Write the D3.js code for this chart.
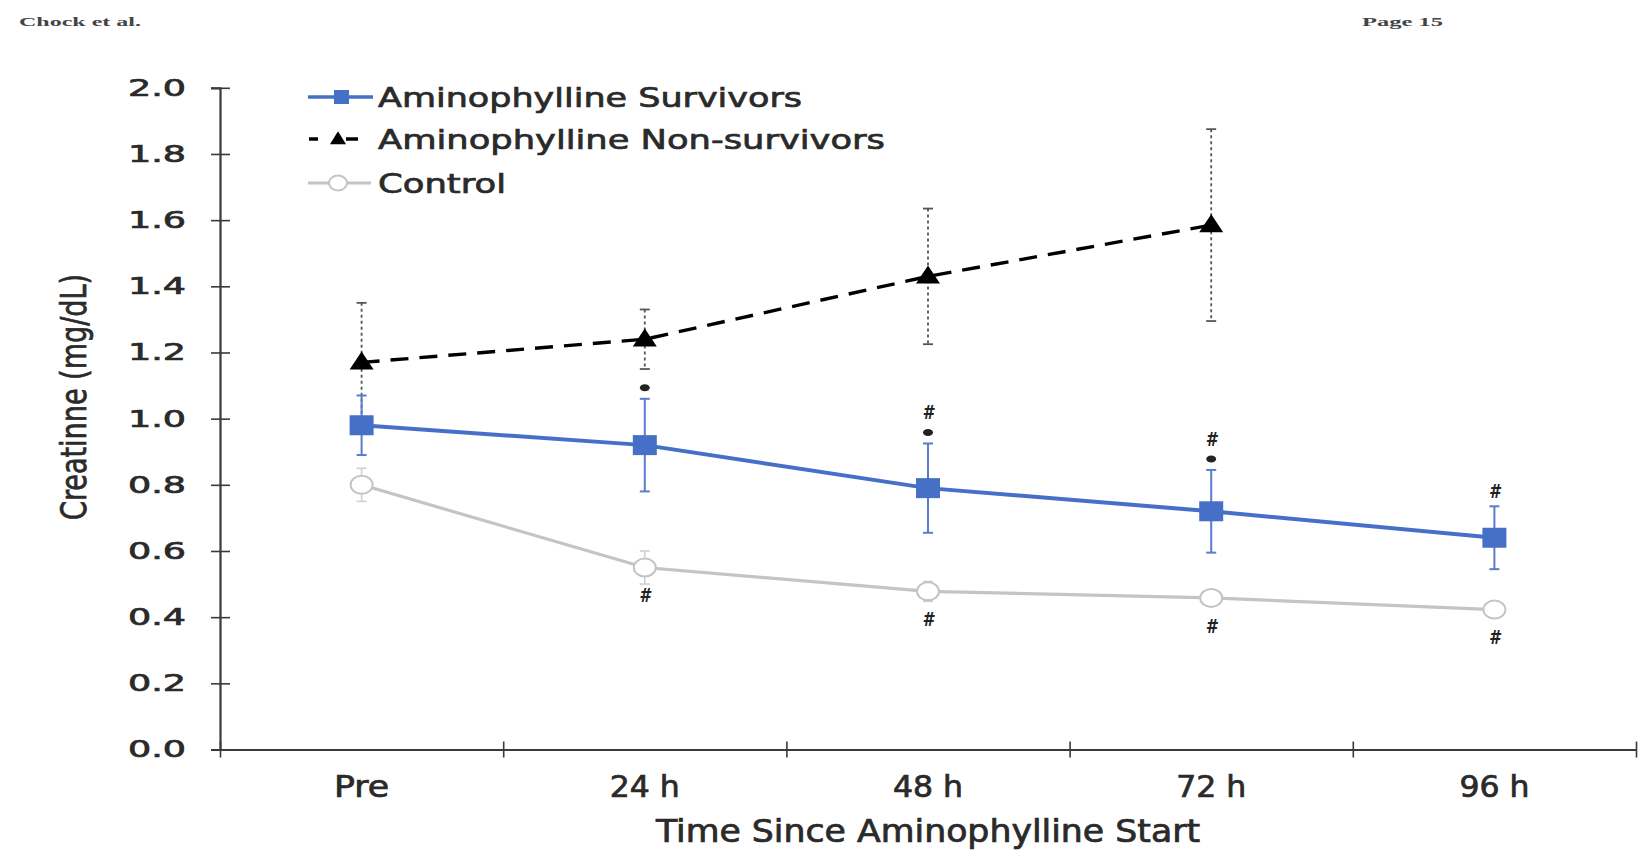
<!DOCTYPE html>
<html>
<head>
<meta charset="utf-8">
<script src="https://cdn.jsdelivr.net/npm/d3@7"></script>
<style>
  body { margin: 0; background: #fff; }
  svg { display: block; }
  .lbl { stroke: #2a2a2a; stroke-width: 0.7px; paint-order: stroke; }
</style>
</head>
<body>
<svg id="chart" width="1639" height="851"></svg>
<script>
// Serum creatinine over time since aminophylline start
const categories = ["Pre", "24 h", "48 h", "72 h", "96 h"];
const survivors = [0.98, 0.92, 0.79, 0.72, 0.64];
const survivorsErr = [0.09, 0.14, 0.135, 0.125, 0.095];
const nonSurvivors = [1.17, 1.24, 1.43, 1.585, null];
const nonSurvivorsErr = [0.18, 0.09, 0.205, 0.29, null];
const control = [0.80, 0.55, 0.478, 0.458, 0.423];
const controlErr = [0.05, 0.05, 0.03, 0.02, 0.015];
const survivorsMarks = ["", "*", "#*", "#*", "#"];
const controlMarks = ["", "#", "#", "#", "#"];
const yTicks = [0, 0.2, 0.4, 0.6, 0.8, 1.0, 1.2, 1.4, 1.6, 1.8, 2.0];
const seriesNames = ["Aminophylline Survivors", "Aminophylline Non-survivors", "Control"];

const BLUE = "#4670c8", BLACK = "#000", GREY = "#c4c4c4", AXIS = "#3a3a3a", TEXT = "#2a2a2a";
const SANS = "'DejaVu Sans', Verdana, sans-serif";
const NARROW = "'Liberation Sans Narrow', 'DejaVu Sans Condensed', 'Open Sans', sans-serif";

const svg = d3.select("#chart");
const x = d3.scaleBand().domain(categories).range([220, 1636]);
const y = d3.scaleLinear().domain([0, 2]).range([749.5, 87.8]);
const cx = c => x(c) + x.bandwidth() / 2;

// page header
svg.append("text").attr("x", 19).attr("y", 26).attr("textLength", 122)
  .attr("lengthAdjust", "spacingAndGlyphs")
  .style("font", "bold 13px 'Liberation Serif', serif").style("fill", "#444").text("Chock et al.");
svg.append("text").attr("x", 1362).attr("y", 26).attr("textLength", 81)
  .attr("lengthAdjust", "spacingAndGlyphs")
  .style("font", "bold 13px 'Liberation Serif', serif").style("fill", "#444").text("Page 15");

// y axis
const yAxis = svg.append("g").attr("transform", "translate(220,0)")
  .call(d3.axisLeft(y).tickValues(yTicks).tickFormat(d3.format(".1f")).tickSize(9).tickPadding(25));
yAxis.select(".domain").attr("stroke", AXIS).attr("stroke-width", 2.2);
yAxis.selectAll(".tick line").attr("x1", -9).attr("x2", 10).attr("stroke", AXIS).attr("stroke-width", 1.6);
yAxis.selectAll(".tick text").attr("class", "lbl").style("font-family", SANS).style("font-size", "23px")
  .style("fill", TEXT).attr("textLength", 58).attr("lengthAdjust", "spacingAndGlyphs");

// x axis: ticks on band boundaries
const xb = d3.scaleLinear().domain([0, categories.length]).range(x.range());
const xAxis = svg.append("g").attr("transform", `translate(0,${y(0)})`)
  .call(d3.axisBottom(xb).ticks(categories.length).tickFormat("").tickSize(8).tickSizeOuter(0));
xAxis.select(".domain").attr("stroke", AXIS).attr("stroke-width", 2.2);
xAxis.selectAll(".tick line").attr("y1", -8).attr("y2", 8).attr("stroke", AXIS).attr("stroke-width", 1.6);

svg.append("g").selectAll("text").data(categories).join("text").attr("class", "lbl")
  .attr("x", d => cx(d)).attr("y", 797).attr("text-anchor", "middle")
  .attr("textLength", d => d === "Pre" ? 55 : 70).attr("lengthAdjust", "spacingAndGlyphs")
  .style("font-family", NARROW).style("font-size", "31px").style("fill", TEXT).text(d => d);

svg.append("text").attr("class", "lbl").attr("x", 928).attr("y", 842).attr("text-anchor", "middle")
  .attr("textLength", 544).attr("lengthAdjust", "spacingAndGlyphs")
  .style("font-family", NARROW).style("font-size", "32px").style("fill", TEXT)
  .text("Time Since Aminophylline Start");

svg.append("text").attr("class", "lbl").attr("transform", "translate(86,397) rotate(-90)").attr("text-anchor", "middle")
  .attr("textLength", 246).attr("lengthAdjust", "spacingAndGlyphs")
  .style("font-family", NARROW).style("font-size", "36px").style("fill", TEXT)
  .text("Creatinne (mg/dL)");

// series records built from the arrays
const mk = (vals, errs) => categories.map((c, i) => ({ c, v: vals[i], e: errs[i] })).filter(d => d.v != null);
const sSurv = mk(survivors, survivorsErr);
const sNon = mk(nonSurvivors, nonSurvivorsErr);
const sCtrl = mk(control, controlErr);

function errorBars(data, color, width, dash) {
  const g = svg.append("g").attr("stroke", color).attr("stroke-width", width).attr("fill", "none");
  g.selectAll("line.v").data(data).join("line")
    .attr("x1", d => cx(d.c)).attr("x2", d => cx(d.c))
    .attr("y1", d => y(d.v + d.e)).attr("y2", d => y(d.v - d.e))
    .attr("stroke-dasharray", dash);
  [1, -1].forEach(s => {
    g.selectAll(null).data(data).join("line")
      .attr("x1", d => cx(d.c) - 5).attr("x2", d => cx(d.c) + 5)
      .attr("y1", d => y(d.v + s * d.e)).attr("y2", d => y(d.v + s * d.e));
  });
}
errorBars(sCtrl, "#d0d0d0", 1.6, null);
errorBars(sNon, "#555", 1.8, "3,3");
errorBars(sSurv, "#5a7ccc", 2, null);

const line = d3.line().x(d => cx(d.c)).y(d => y(d.v));
svg.append("path").datum(sCtrl).attr("d", line).attr("fill", "none").attr("stroke", GREY).attr("stroke-width", 3.2);
svg.append("path").datum(sSurv).attr("d", line).attr("fill", "none").attr("stroke", BLUE).attr("stroke-width", 4);
svg.append("path").datum(sNon).attr("d", line).attr("fill", "none").attr("stroke", BLACK)
  .attr("stroke-width", 3.4).attr("stroke-dasharray", "18,11");

// markers
svg.append("g").selectAll("ellipse").data(sCtrl).join("ellipse")
  .attr("cx", d => cx(d.c)).attr("cy", d => y(d.v)).attr("rx", 11).attr("ry", 9)
  .attr("fill", "#fff").attr("stroke", GREY).attr("stroke-width", 2);
svg.append("g").selectAll("rect").data(sSurv).join("rect")
  .attr("x", d => cx(d.c) - 12).attr("y", d => y(d.v) - 10).attr("width", 24).attr("height", 20)
  .attr("fill", BLUE);
const tri = (px, py, w, h) => `M${px},${py - h * 0.6}L${px + w / 2},${py + h * 0.4}L${px - w / 2},${py + h * 0.4}Z`;
svg.append("g").selectAll("path").data(sNon).join("path")
  .attr("d", d => tri(cx(d.c), y(d.v), 24, 18)).attr("fill", BLACK);

// significance marks
const markFont = "italic bold 19px 'DejaVu Sans', sans-serif";
svg.append("g").selectAll("g").data(sSurv.map((d, i) => ({ ...d, m: survivorsMarks[i] }))).join("g")
  .each(function (d) {
    const g = d3.select(this);
    const top = y(d.v + d.e);
    if (d.m.includes("*")) {
      g.append("ellipse").attr("cx", cx(d.c)).attr("cy", top - 11).attr("rx", 5).attr("ry", 3.5).attr("fill", "#222");
    }
    if (d.m.includes("#")) {
      g.append("text").attr("x", cx(d.c)).attr("y", top - (d.m.includes("*") ? 31 : 15))
        .attr("dy", "0.36em").attr("text-anchor", "middle").attr("textLength", 11)
        .attr("lengthAdjust", "spacingAndGlyphs").style("font", markFont)
        .style("fill", "#222").text("#");
    }
  });
svg.append("g").selectAll("text").data(sCtrl.map((d, i) => ({ ...d, m: controlMarks[i] })).filter(d => d.m))
  .join("text").attr("x", d => cx(d.c)).attr("y", d => y(d.v) + 28).attr("dy", "0.36em")
  .attr("text-anchor", "middle").attr("textLength", 11).attr("lengthAdjust", "spacingAndGlyphs")
  .style("font", markFont).style("fill", "#222")
  .text(d => d.m);

// legend
const legendY = [97, 139, 183];
const legendW = [424, 507, 128];
const lg = svg.append("g");
lg.append("line").attr("x1", 308).attr("x2", 373).attr("y1", legendY[0]).attr("y2", legendY[0])
  .attr("stroke", BLUE).attr("stroke-width", 3.5);
lg.append("rect").attr("x", 334).attr("y", legendY[0] - 7).attr("width", 15).attr("height", 14).attr("fill", BLUE);
lg.append("line").attr("x1", 309).attr("x2", 318).attr("y1", legendY[1]).attr("y2", legendY[1])
  .attr("stroke", BLACK).attr("stroke-width", 3.5);
lg.append("line").attr("x1", 346).attr("x2", 358).attr("y1", legendY[1]).attr("y2", legendY[1])
  .attr("stroke", BLACK).attr("stroke-width", 3.5);
lg.append("path").attr("d", tri(338, legendY[1], 16, 13)).attr("fill", BLACK);
lg.append("line").attr("x1", 308).attr("x2", 371).attr("y1", legendY[2]).attr("y2", legendY[2])
  .attr("stroke", GREY).attr("stroke-width", 3);
lg.append("ellipse").attr("cx", 338).attr("cy", legendY[2]).attr("rx", 9).attr("ry", 7.5)
  .attr("fill", "#fff").attr("stroke", GREY).attr("stroke-width", 2);
lg.selectAll("text").data(seriesNames).join("text").attr("class", "lbl")
  .attr("x", 378).attr("y", (d, i) => legendY[i]).attr("dy", "0.36em")
  .attr("textLength", (d, i) => legendW[i]).attr("lengthAdjust", "spacingAndGlyphs")
  .style("font-family", SANS).style("font-size", "27px").style("fill", TEXT).text(d => d);
</script>
</body>
</html>
